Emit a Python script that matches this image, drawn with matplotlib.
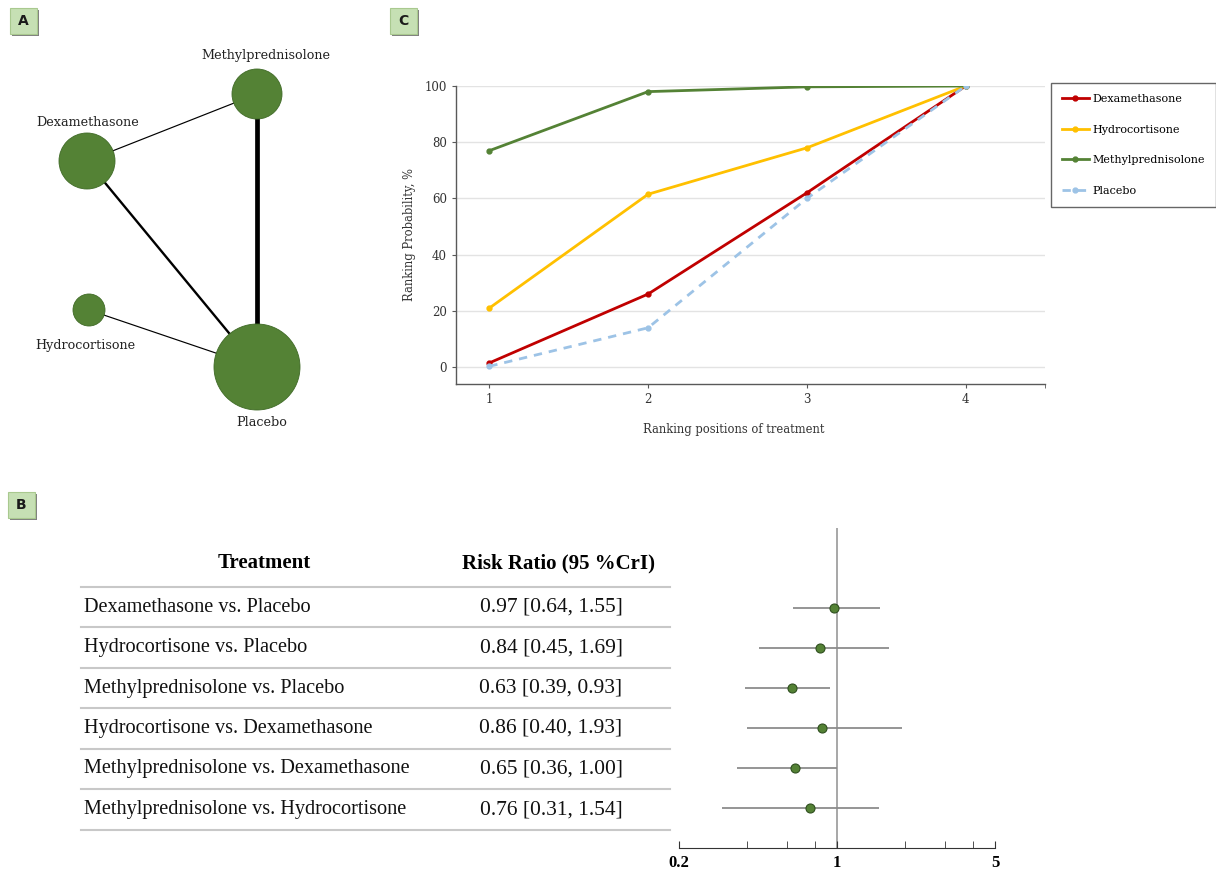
import matplotlib.pyplot as plt
from matplotlib.patches import Circle, Rectangle
import numpy as np

# ---- data ----
# network (panel A)
nodes = ['Methylprednisolone', 'Dexamethasone', 'Hydrocortisone', 'Placebo']
edges = [('Dexamethasone', 'Methylprednisolone'),
         ('Dexamethasone', 'Placebo'),
         ('Methylprednisolone', 'Placebo'),
         ('Hydrocortisone', 'Placebo')]
edge_studies = [1, 2, 4, 1]

# ranking curves (panel C)
ranks = [1, 2, 3, 4]
dexa_rank = [1.5, 26, 62, 100]
hydro_rank = [21, 61.5, 78, 100]
methyl_rank = [77, 98, 99.7, 100]
placebo_rank = [0.3, 14, 60, 100]

# league table / forest (panel B)
comparisons = ['Dexamethasone vs. Placebo',
               'Hydrocortisone vs. Placebo',
               'Methylprednisolone vs. Placebo',
               'Hydrocortisone vs. Dexamethasone',
               'Methylprednisolone vs. Dexamethasone',
               'Methylprednisolone vs. Hydrocortisone']
rr = [0.97, 0.84, 0.63, 0.86, 0.65, 0.76]
rr_low = [0.64, 0.45, 0.39, 0.40, 0.36, 0.31]
rr_high = [1.55, 1.69, 0.93, 1.93, 1.00, 1.54]

W, H = 1216, 874
fig = plt.figure(figsize=(W / 100, H / 100), dpi=100)


def px_axes(left, top, right, bottom):
    return fig.add_axes([left / W, 1 - bottom / H, (right - left) / W, (bottom - top) / H])


# overlay axes in pixel coords for network, labels and table
ov = fig.add_axes([0, 0, 1, 1])
ov.set_xlim(0, W)
ov.set_ylim(H, 0)
ov.axis('off')

serif = 'DejaVu Serif'
green = '#548235'

# panel label boxes
for lab, x0, y0 in [('A', 10, 8), ('C', 390, 8), ('B', 8, 492)]:
    ov.add_patch(Rectangle((x0 + 2, y0 + 2), 27, 26, facecolor='#7f7f7f', edgecolor='none'))
    ov.add_patch(Rectangle((x0, y0), 27, 26, facecolor='#c6e0b4', edgecolor='#a9c98f', lw=0.8))
    ov.text(x0 + 13.5, y0 + 13, lab, ha='center', va='center', fontsize=10,
            fontweight='bold', family='DejaVu Sans', color='#1a1a1a')

# ---- panel A: network ----
layout = {'Methylprednisolone': (257, 94, 25, (266, 56)),
          'Dexamethasone': (87, 161, 28, (88, 122)),
          'Hydrocortisone': (89, 310, 16, (85, 345)),
          'Placebo': (257, 367, 43, (262, 423))}
for (a, b), n in zip(edges, edge_studies):
    ov.plot([layout[a][0], layout[b][0]], [layout[a][1], layout[b][1]],
            color='black', lw=0.85 * n, zorder=2, solid_capstyle='butt')
for name in nodes:
    x, y, r, (tx, ty) = layout[name]
    ov.add_patch(Circle((x, y), r, facecolor=green, edgecolor='#3f6a26', lw=0.6, zorder=3))
    ov.text(tx, ty, name, ha='center', va='center', fontsize=9.2, family=serif, color='#222222')

# ---- panel C: ranking probability ----
axc = px_axes(456, 86, 1045, 384)
series = [('Dexamethasone', dexa_rank, '#c00000', '-'),
          ('Hydrocortisone', hydro_rank, '#ffc000', '-'),
          ('Methylprednisolone', methyl_rank, green, '-'),
          ('Placebo', placebo_rank, '#9dc3e6', '--')]
handles = []
for name, vals, col, ls in series:
    ln, = axc.plot(ranks, vals, color=col, lw=2, ls=ls, marker='o', ms=3.5, label=name)
    if ls == '--':
        ln.set_dashes((3, 2.5))
    handles.append(ln)
axc.set_xlim(0.79, 4.5)
axc.set_ylim(-6, 100)
axc.set_yticks(np.arange(0, 101, 20))
axc.set_xticks(ranks)
axc.set_xticks([4.5], minor=True)
axc.grid(axis='y', color='#e3e3e3', lw=1)
axc.set_axisbelow(True)
for s in ['top', 'right']:
    axc.spines[s].set_visible(False)
for s in ['left', 'bottom']:
    axc.spines[s].set_color('#595959')
    axc.spines[s].set_linewidth(1)
axc.tick_params(which='both', colors='#595959', labelcolor='#333333', labelsize=8.5, length=3)
for t in axc.get_xticklabels() + axc.get_yticklabels():
    t.set_family(serif)
axc.set_ylabel('Ranking Probability, %', family=serif, fontsize=8.3, color='#333333', labelpad=6)
axc.set_xlabel('Ranking positions of treatment', family=serif, fontsize=8.3, color='#333333')
axc.xaxis.set_label_coords(0.472, -0.13)

leg = fig.legend(handles=handles, loc='upper left', bbox_to_anchor=(1051 / W, 1 - 83 / H),
                 frameon=True, fancybox=False, edgecolor='#404040',
                 prop={'family': serif, 'size': 8}, labelspacing=1.85,
                 handlelength=2.4, handletextpad=0.3, borderpad=1.0, borderaxespad=0)
leg.get_frame().set_linewidth(1)

# ---- panel B: table ----
tfont = 'Liberation Serif'
ov.text(264, 563, 'Treatment', ha='center', va='center', fontsize=15, fontweight='bold', family=tfont)
ov.text(558, 563, 'Risk Ratio (95 %CrI)', ha='center', va='center', fontsize=15,
        fontweight='bold', family=tfont)
row_y = 607 + 40.5 * np.arange(len(comparisons))
for i, (comp, m, lo, hi) in enumerate(zip(comparisons, rr, rr_low, rr_high)):
    ov.text(84, row_y[i], comp, ha='left', va='center', fontsize=14.6, family=tfont, color='#111111')
    ov.text(551, row_y[i], f'{m:.2f} [{lo:.2f}, {hi:.2f}]', ha='center', va='center',
            fontsize=15.5, family=tfont, color='#111111')
for y in np.append(row_y - 20.5, row_y[-1] + 20.5):
    ov.plot([81, 670], [y, y], color='#c8c8c8', lw=1.5)

# forest plot
axf = px_axes(679, 528, 995, 848)
axf.set_xscale('log')
yy = np.arange(len(rr))
axf.hlines(yy, rr_low, rr_high, color='#8c8c8c', lw=1.3, zorder=2)
axf.plot(rr, yy, 'o', ms=6.5, color=green, mec='#2f4f1f', mew=0.8, zorder=3)
axf.axvline(1, color='#a0a0a0', lw=1.3, zorder=1)
axf.set_xlim(0.2, 5)
axf.set_ylim(5.99, -1.99)
axf.set_yticks([])
for s in ['top', 'right', 'left']:
    axf.spines[s].set_visible(False)
axf.spines['bottom'].set_color('#333333')
axf.set_xticks([0.2, 1, 5])
axf.set_xticklabels(['0.2', '1', '5'])
axf.set_xticks([0.4, 0.6, 0.8, 2, 3, 4], minor=True)
axf.set_xticklabels([], minor=True)
axf.tick_params(axis='x', which='both', direction='in', length=5, colors='#333333', pad=5)
for t in axf.get_xticklabels():
    t.set_family(tfont)
    t.set_fontweight('bold')
    t.set_fontsize(12)
    t.set_color('black')

fig.savefig('out.png', dpi=100)
